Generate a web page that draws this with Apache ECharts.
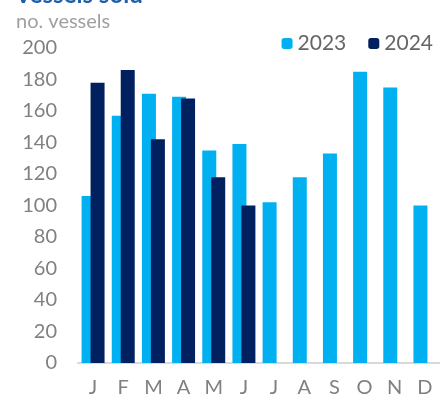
<!DOCTYPE html>
<html><head><meta charset="utf-8">
<script src="https://cdn.jsdelivr.net/npm/echarts@6/dist/echarts.min.js"></script>
<style>html,body{margin:0;padding:0;background:#fff}#c{width:440px;height:401px}</style>
</head><body><div id="c"></div>
<script>
const months = ['J','F','M','A','M','J','J','A','S','O','N','D'];
const s2023 = [106,157,171,169,135,139,102,118,133,185,175,100];
const s2024 = [178,186,142,168,118,100,null,null,null,null,null,null];
const yTicks = {min:0, max:200, interval:20};

const chart = echarts.init(document.getElementById('c'));
chart.setOption({
  animation:false,
  textStyle:{fontFamily:'Lato'},
  title:[
    {text:'Vessels sold', left:10, top:-22, textStyle:{fontFamily:'Lato', fontSize:24, fontWeight:'bold', color:'#1F5FA8'}},
    {text:'no. vessels', left:11, top:7, textStyle:{fontFamily:'Lato', fontSize:20, fontWeight:'normal', color:'#A0A0A0'}}
  ],
  legend:{
    right:2, top:28, itemWidth:11, itemHeight:11, itemGap:22,
    textStyle:{fontFamily:'Lato', fontSize:21, color:'#666'},
    data:['2023','2024']
  },
  grid:{left:78, right:-5, top:48, bottom:38, containLabel:false},
  xAxis:{
    type:'category', data:months,
    axisLine:{lineStyle:{color:'#D9D9D9', width:2}},
    axisTick:{show:false},
    axisLabel:{fontFamily:'Lato', fontSize:20, color:'#808080', margin:15}
  },
  yAxis:{
    type:'value', min:yTicks.min, max:yTicks.max, interval:yTicks.interval,
    splitLine:{show:false}, axisLine:{show:false}, axisTick:{show:false},
    axisLabel:{fontFamily:'Lato', fontSize:20, color:'#808080', margin:21}
  },
  series:[
    {name:'2023', type:'bar', data:s2023, barWidth:14, barGap:'-36%', itemStyle:{color:'#00B0F0'}},
    {name:'2024', type:'bar', data:s2024, barWidth:14, barGap:'-36%', itemStyle:{color:'#002060'}}
  ]
});
</script></body></html>
